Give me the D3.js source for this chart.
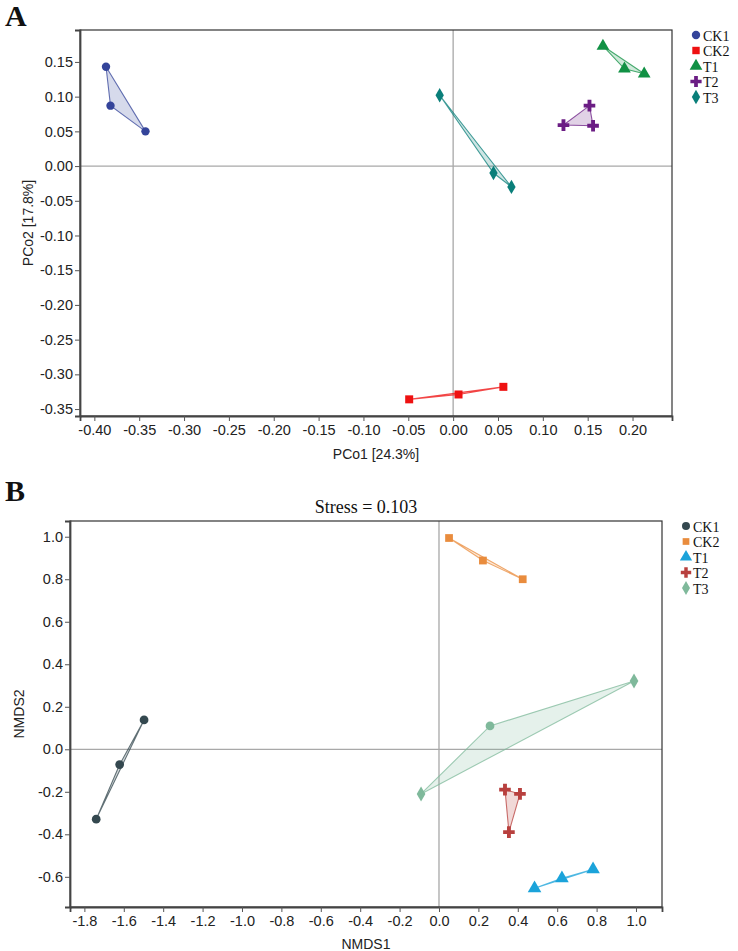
<!DOCTYPE html>
<html><head><meta charset="utf-8">
<script src="https://cdn.jsdelivr.net/npm/d3@7"></script>
<style>body{margin:0;background:#fff}</style>
</head><body>
<svg id="c" width="738" height="951"></svg>
<script>
// ---------- data ----------
const groups = ["CK1", "CK2", "T1", "T2", "T3"];

// Panel A: PCoA
const pcoaPC1 = [
  [-0.387, -0.382, -0.343],
  [-0.049, 0.006, 0.056],
  [0.167, 0.191, 0.213],
  [0.152, 0.123, 0.156],
  [-0.015, 0.045, 0.065]
];
const pcoaPC2 = [
  [0.143, 0.087, 0.050],
  [-0.336, -0.329, -0.318],
  [0.173, 0.140, 0.133],
  [0.087, 0.059, 0.058],
  [0.102, -0.010, -0.030]
];
const pcoaColors = ["#34449a", "#ee1111", "#119144", "#6b1d84", "#0a7f7a"];
const pcoaXTicks = [-0.40,-0.35,-0.30,-0.25,-0.20,-0.15,-0.10,-0.05,0.00,0.05,0.10,0.15,0.20];
const pcoaYTicks = [0.15,0.10,0.05,0.00,-0.05,-0.10,-0.15,-0.20,-0.25,-0.30,-0.35];

// Panel B: NMDS
const nmdsX = [
  [-1.497, -1.621, -1.740],
  [0.051, 0.223, 0.425],
  [0.485, 0.624, 0.782],
  [0.335, 0.411, 0.355],
  [-0.091, 0.259, 0.990]
];
const nmdsY = [
  [0.138, -0.072, -0.329],
  [0.994, 0.888, 0.800],
  [-0.654, -0.607, -0.565],
  [-0.190, -0.210, -0.390],
  [-0.210, 0.110, 0.321]
];
// marker shape index per point (into symbols); -1 = group default
const nmdsShapes = [
  [-1, -1, -1],
  [-1, -1, -1],
  [-1, -1, -1],
  [-1, -1, -1],
  [-1, 0, -1]
];
const nmdsColors = ["#34484f", "#e98c3d", "#1ba3da", "#b8403e", "#7fb99b"];
const nmdsXTicks = [-1.8,-1.6,-1.4,-1.2,-1.0,-0.8,-0.6,-0.4,-0.2,0.0,0.2,0.4,0.6,0.8,1.0];
const nmdsYTicks = [1.0,0.8,0.6,0.4,0.2,0.0,-0.2,-0.4,-0.6];

const symbols = [d3.symbolCircle, d3.symbolSquare, d3.symbolTriangle, d3.symbolCross, d3.symbolDiamond];

// ---------- drawing ----------
const svg = d3.select("#c");
const sans = "'Liberation Sans', Arial, sans-serif";
const serif = "'Liberation Serif', 'Times New Roman', serif";

function fmt(p){ return d => d3.format("." + p + "f")(d).replace("\u2212", "-"); }

function panel(o) {
  const x = d3.scaleLinear().domain(o.xDom).range([o.left, o.right]);
  const y = d3.scaleLinear().domain(o.yDom).range([o.bottom, o.top]);
  const g = svg.append("g");

  // zero reference lines
  g.append("line").attr("x1", x(0)).attr("x2", x(0)).attr("y1", o.top).attr("y2", o.bottom)
    .attr("stroke", "#a8a8a8").attr("stroke-width", 1.3);
  g.append("line").attr("x1", o.left).attr("x2", o.right).attr("y1", y(0)).attr("y2", y(0))
    .attr("stroke", "#a8a8a8").attr("stroke-width", 1.3);

  // frame
  g.append("rect").attr("x", o.left).attr("y", o.top)
    .attr("width", o.right - o.left).attr("height", o.bottom - o.top)
    .attr("fill", "none").attr("stroke", "#333").attr("stroke-width", 1.2);

  // axes
  const ax = g.append("g").attr("transform", `translate(0,${o.bottom})`)
    .call(d3.axisBottom(x).tickValues(o.xTicks).tickFormat(fmt(o.prec)).tickSize(5).tickPadding(4));
  const ay = g.append("g").attr("transform", `translate(${o.left},0)`)
    .call(d3.axisLeft(y).tickValues(o.yTicks).tickFormat(fmt(o.prec)).tickSize(5).tickPadding(2));
  [ax, ay].forEach(a => {
    a.select(".domain").attr("stroke", "#444").attr("stroke-width", 1.8);
    a.selectAll(".tick line").attr("stroke", "#555");
    a.selectAll(".tick text").attr("font-family", sans).attr("font-size", 14.5).attr("fill", "#222");
  });

  // hulls and points
  groups.forEach((grp, i) => {
    const pts = o.xs[i].map((v, j) => [x(v), y(o.ys[i][j])]);
    const hull = d3.polygonHull(pts);
    g.append("path").attr("d", "M" + hull.join("L") + "Z")
      .attr("fill", o.colors[i]).attr("fill-opacity", 0.2)
      .attr("stroke", o.colors[i]).attr("stroke-opacity", 0.75).attr("stroke-width", 1.1);
    pts.forEach((p, j) => {
      const s = o.shapes && o.shapes[i][j] >= 0 ? o.shapes[i][j] : i;
      g.append("path").attr("d", d3.symbol(symbols[s], o.sizes[s])())
        .attr("transform", `translate(${p[0]},${p[1]})`)
        .attr("fill", o.colors[i]);
    });
  });

  // axis titles
  g.append("text").attr("x", (o.left + o.right) / 2).attr("y", o.xTitleY)
    .attr("text-anchor", "middle").attr("font-family", sans).attr("font-size", 14).attr("fill", "#222")
    .text(o.xTitle);
  g.append("text").attr("transform", `translate(${o.yTitleX},${(o.top + o.bottom) / 2}) rotate(-90)`)
    .attr("text-anchor", "middle").attr("font-family", sans).attr("font-size", 14).attr("fill", "#222")
    .text(o.yTitle);

  // legend
  groups.forEach((grp, i) => {
    const ly = o.legY + i * 15.5;
    g.append("path").attr("d", d3.symbol(symbols[i], o.legSizes[i])())
      .attr("transform", `translate(${o.legX},${ly})`).attr("fill", o.colors[i]);
    g.append("text").attr("x", o.legX + 7).attr("y", ly + 5.5)
      .attr("font-family", serif).attr("font-size", 14).attr("fill", "#111").text(grp);
  });
}

panel({
  left: 80, right: 672, top: 30, bottom: 416,
  xDom: [-0.416, 0.244], yDom: [-0.360, 0.196],
  xTicks: pcoaXTicks, yTicks: pcoaYTicks, prec: 2,
  xs: pcoaPC1, ys: pcoaPC2, colors: pcoaColors,
  sizes: [55, 64, 70, 75, 60],
  legSizes: [55, 55, 70, 70, 60],
  xTitle: "PCo1 [24.3%]", xTitleY: 459,
  yTitle: "PCo2 [17.8%]", yTitleX: 33,
  legX: 696, legY: 35
});

panel({
  left: 70, right: 662, top: 521, bottom: 907,
  xDom: [-1.873, 1.132], yDom: [-0.742, 1.074],
  xTicks: nmdsXTicks, yTicks: nmdsYTicks, prec: 1,
  xs: nmdsX, ys: nmdsY, shapes: nmdsShapes, colors: nmdsColors,
  sizes: [60, 60, 80, 75, 65],
  legSizes: [50, 45, 65, 60, 55],
  xTitle: "NMDS1", xTitleY: 949,
  yTitle: "NMDS2", yTitleX: 24,
  legX: 686, legY: 526
});

// panel letters and title
svg.append("text").attr("x", 5).attr("y", 26).attr("font-family", serif).attr("font-weight", "bold")
  .attr("font-size", 30).attr("fill", "#111").text("A");
svg.append("text").attr("x", 5).attr("y", 501).attr("font-family", serif).attr("font-weight", "bold")
  .attr("font-size", 30).attr("fill", "#111").text("B");
svg.append("text").attr("x", 366).attr("y", 513).attr("text-anchor", "middle").attr("font-family", serif)
  .attr("font-size", 18).attr("fill", "#111").text("Stress = 0.103");
</script>
</body></html>
